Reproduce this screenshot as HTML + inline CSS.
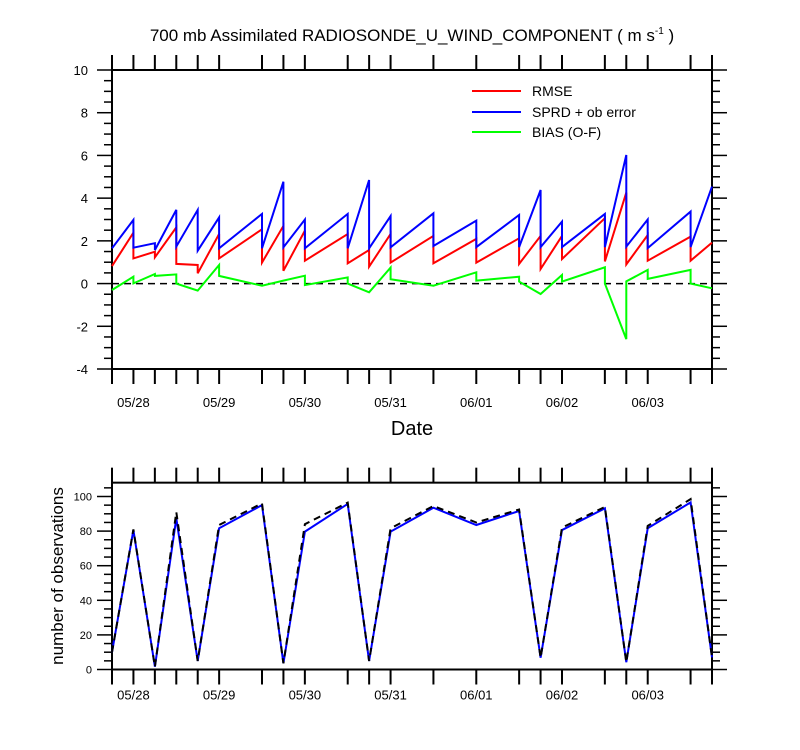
<!DOCTYPE html>
<html><head><meta charset="utf-8">
<style>
html,body{margin:0;padding:0;background:#fff;}
svg{display:block;font-family:"Liberation Sans",Arial,sans-serif;}
</style></head>
<body>
<svg id="chart" width="800" height="750" xmlns="http://www.w3.org/2000/svg">
<text x="412" y="41" font-size="17" text-anchor="middle">700 mb Assimilated RADIOSONDE_U_WIND_COMPONENT ( m s<tspan font-size="10" dy="-7">-1</tspan><tspan dy="7"> )</tspan></text>
<text x="412" y="435" font-size="20" text-anchor="middle">Date</text>
<text transform="translate(63,576) rotate(-90)" font-size="17" text-anchor="middle">number of observations</text>
<g id="legend">
<line x1="472" y1="91" x2="521" y2="91" stroke="#f00" stroke-width="2"/>
<text x="532" y="96" font-size="14">RMSE</text>
<line x1="472" y1="112" x2="521" y2="112" stroke="#00f" stroke-width="2"/>
<text x="532" y="117" font-size="14">SPRD + ob error</text>
<line x1="472" y1="132" x2="521" y2="132" stroke="#0f0" stroke-width="2"/>
<text x="532" y="137" font-size="14">BIAS (O-F)</text>
</g>
</svg>
<script>
const tickHours=[0,6,12,18,24,30,42,48,54,66,72,78,90,102,114,120,126,138,144,150,162,168];
const dateLabels=["05/28","05/29","05/30","05/31","06/01","06/02","06/03"];
const dateHours=[6,30,54,78,102,126,150];
const sprdT=[0,6,6,12,12,18,18,24,24,30,30,42,42,48,48,54,54,66,66,72,72,78,78,90,90,102,102,114,114,120,120,126,126,138,138,144,144,150,150,162,162,168];
const sprdV=[1.65,2.98,1.68,1.89,1.57,3.45,1.73,3.45,1.54,3.1,1.65,3.26,1.65,4.77,1.7,3.0,1.65,3.26,1.65,4.85,1.65,3.16,1.7,3.29,1.76,2.95,1.71,3.21,1.71,4.38,1.71,2.9,1.71,3.26,1.71,6.02,1.73,3.0,1.66,3.37,1.71,4.54];
const rmseT=sprdT;
const rmseV=[0.82,2.38,1.18,1.49,1.23,2.63,0.92,0.87,0.48,2.32,1.18,2.54,0.98,2.7,0.6,2.48,1.07,2.32,0.95,1.57,0.79,2.32,0.98,2.23,0.95,2.09,0.98,2.12,0.92,2.23,0.68,2.23,1.15,3.06,1.04,4.26,0.9,2.27,1.07,2.2,1.07,1.92];
const biasT=[0,6,6,12,12,18,18,24,30,30,42,48,54,54,66,66,72,78,78,90,102,102,114,114,120,126,126,138,138,144,144,150,150,162,162,168];
const biasV=[-0.3,0.32,0.01,0.45,0.36,0.43,0,-0.33,0.87,0.36,-0.1,0.14,0.37,-0.07,0.29,0,-0.41,0.75,0.2,-0.1,0.53,0.14,0.32,0.09,-0.49,0.4,0.09,0.76,0,-2.6,0.1,0.64,0.22,0.64,0,-0.22];
const obsT=[0,6,12,18,24,30,42,48,54,66,72,78,90,102,114,120,126,138,144,150,162,168];
const obsUsed=[10,80.6,1.6,87.4,4.9,81.6,95,3.6,79.7,95.7,4.9,79.7,93.5,83.5,91.6,6.8,80.6,93.2,4.2,81.6,96.6,7];
const obsTotal=[10,81,1.6,91,4.9,83.5,96,3.6,84,96.5,4.9,81.6,94.5,85,92.5,6.8,82,94,4.2,83,98.5,7];

const svg=document.getElementById('chart');
const NS='http://www.w3.org/2000/svg';
function mk(tag,attrs,parent){const e=document.createElementNS(NS,tag);for(const k in attrs)e.setAttribute(k,attrs[k]);(parent||svg).appendChild(e);return e;}
const X0=112,X1=712;
function xs(h){return X0+h*(X1-X0)/168;}
const T0=70,T1=369;
function yTop(v){return T0+(10-v)*(T1-T0)/14;}
const B1=669.5;
function yBot(v){return B1-v*1.73;}
const B0=yBot(108);

function frame(top,bot,name,labOff){
  const r=mk('rect',{x:X0,y:top,width:X1-X0,height:bot-top,fill:'none',stroke:'#000','stroke-width':2});
  
  
  tickHours.forEach(h=>{
    const x=xs(h);
    mk('line',{x1:x,y1:top,x2:x,y2:top-15,stroke:'#000','stroke-width':2});
    mk('line',{x1:x,y1:bot,x2:x,y2:bot+15,stroke:'#000','stroke-width':2});
  });
  dateHours.forEach((h,i)=>{
    const t=mk('text',{x:xs(h),y:bot+labOff,'font-size':13,'text-anchor':'middle'});
    
    
    t.textContent=dateLabels[i];
  });
}
frame(T0,T1,'top-plot-frame',38);
frame(B0,B1,'bottom-plot-frame',30);

for(let v=-4;v<=10.001;v+=0.5){
  const y=yTop(v),maj=Math.abs(v%2)<1e-6;
  const L=maj?15:8;
  mk('line',{x1:X0,y1:y,x2:X0-L,y2:y,stroke:'#000','stroke-width':1.5});
  mk('line',{x1:X1,y1:y,x2:X1+L,y2:y,stroke:'#000','stroke-width':1.5});
  if(maj){const t=mk('text',{x:88,y:y+5,'font-size':13,'text-anchor':'end'});
    
    
    t.textContent=v;}
}
for(let v=0;v<=105;v+=5){
  const y=yBot(v),maj=v%20===0;
  const L=maj?15:8;
  mk('line',{x1:X0,y1:y,x2:X0-L,y2:y,stroke:'#000','stroke-width':1.5});
  mk('line',{x1:X1,y1:y,x2:X1+L,y2:y,stroke:'#000','stroke-width':1.5});
  if(maj){const t=mk('text',{x:92,y:y+4,'font-size':11,'text-anchor':'end'});
    
    
    t.textContent=v;}
}
const z=mk('line',{x1:X0,y1:yTop(0),x2:X1,y2:yTop(0),stroke:'#000','stroke-width':1.5,'stroke-dasharray':'7,5'});



function series(T,V,yf,color,name,dash){
  const pts=T.map((t,i)=>xs(t).toFixed(1)+','+yf(V[i]).toFixed(1)).join(' ');
  const p=mk('polyline',{points:pts,fill:'none',stroke:color,'stroke-width':2,'stroke-linejoin':'miter'});
  if(dash)p.setAttribute('stroke-dasharray',dash);
  
  
}
series(biasT,biasV,yTop,'#00ff00','bias-line');
series(rmseT,rmseV,yTop,'#ff0000','rmse-line');
series(sprdT,sprdV,yTop,'#0000ff','sprd-line');
series(obsT,obsUsed,yBot,'#0000ff','obs-used-line');
series(obsT,obsTotal,yBot,'#000000','obs-total-line','7,5');
</script>
</body></html>
